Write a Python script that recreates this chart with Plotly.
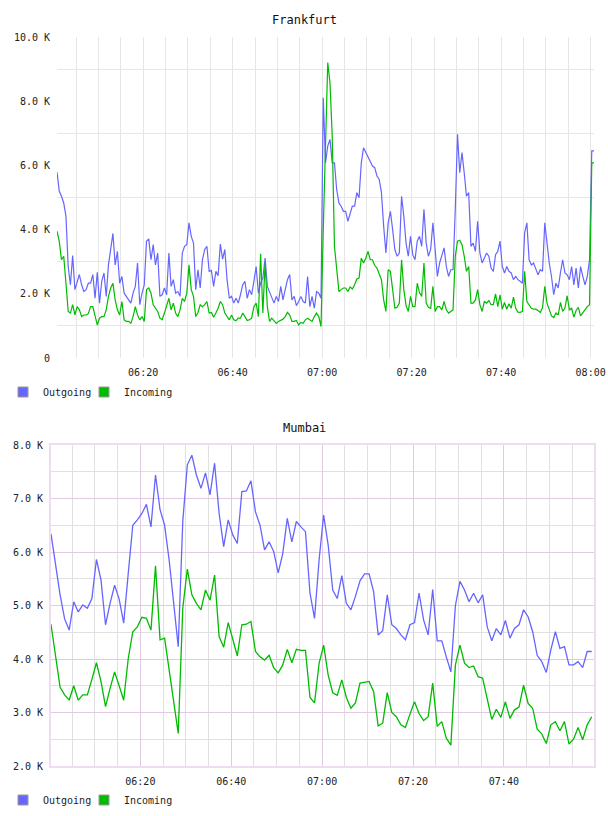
import pandas as pd
import plotly.graph_objects as go

# ---------------- data (values in thousands) ----------------
FRA_START = "2024-01-01 06:00:45"
FRA_STEP = "30s"
fra_outgoing = [
    5.79, 5.2, 5.04, 4.83, 4.42, 2.85, 2.28, 3.19, 2.13, 2.33, 2.6, 2.28, 2.07, 2.13, 2.33, 2.33, 2.6, 1.86, 2.67, 1.71,
    2.39, 2.65, 1.92, 2.9, 3.43, 3.88, 2.9, 3.32, 2.33, 2.54, 2.02, 1.92, 1.81, 1.71, 2.02, 2.23, 2.96, 1.66, 2.02, 2.28,
    3.64, 3.71, 3.06, 3.53, 2.9, 3.27, 1.92, 1.97, 2.18, 1.97, 3.27, 2.23, 2.44, 2.02, 2.07, 1.92, 3.27, 3.48, 3.53,
    4.21, 3.79, 3.58, 2.13, 2.75, 2.18, 3.06, 3.38, 3.48, 2.7, 2.73, 2.23, 2.7, 2.56, 3.55, 3.08, 3.38, 2.44, 1.86, 1.92,
    1.71, 1.86, 1.71, 1.97, 2.28, 2.39, 1.86, 2.13, 1.97, 2.39, 2.85, 2.02, 2.33, 2.49, 3.11, 2.23, 2.07, 1.86, 1.71, 1.92,
    1.76, 2.23, 1.81, 2.13, 2.44, 2.6, 1.81, 1.92, 1.63, 1.76, 1.92, 1.76, 1.71, 2.54, 1.6, 1.92, 1.55, 2.07, 2.02, 1.86,
    8.11, 6.08, 6.6, 6.81, 6.08, 6.08, 5.25, 4.83, 4.73, 4.57, 4.57, 4.26, 4.52, 4.73, 4.73, 5.15, 4.99, 6.08, 6.55, 6.4,
    6.24, 6.08, 5.98, 5.93, 5.67, 5.56, 5.15, 4.1, 3.27, 4.2, 4.57, 4.0, 3.38, 3.17, 3.27, 5.04, 4.42, 3.58, 3.17, 3.79,
    3.22, 3.06, 3.64, 3.79, 3.48, 4.63, 3.58, 3.17, 3.38, 4.21, 3.27, 2.54, 2.96, 3.17, 3.43, 2.85, 2.54, 2.75, 2.75, 4.63,
    6.97,
    5.77, 6.4, 5.77, 5.04, 5.15, 3.48, 3.58, 3.32, 4.26, 3.27, 2.96, 3.11, 3.27, 3.17, 2.8, 2.7, 3.22, 3.32, 3.64, 2.85,
    2.65, 2.85, 2.7, 2.65, 2.44, 2.54, 2.44, 2.39, 2.33, 3.9, 4.21, 3.06, 2.9, 2.96, 2.8, 2.59, 2.75, 2.7, 4.21, 3.48,
    2.96, 2.54, 1.97, 2.33, 2.18, 2.65, 3.06, 2.65, 2.59, 2.44, 2.85, 2.28, 2.8, 2.18, 2.85, 2.54, 2.28, 2.54, 3.06, 6.45,
    6.45,
]
fra_incoming = [
    3.95, 3.64, 3.06, 3.17, 2.33, 1.45, 1.4, 1.66, 1.34, 1.6, 1.5, 1.29, 1.34, 1.34, 1.38, 1.6, 1.6, 1.34, 1.03, 1.24,
    1.29, 1.29, 1.5, 1.92, 2.18, 2.33, 1.81, 1.5, 1.34, 1.76, 1.19, 1.14, 1.14, 1.08, 1.29, 1.6, 1.34, 1.19, 1.29, 1.14,
    2.13, 2.18, 2.02, 1.66, 1.55, 1.45, 1.24, 1.19, 1.4, 1.6, 1.86, 1.5, 1.71, 1.4, 1.29, 1.5, 1.86, 1.76, 2.02,
    2.9, 2.13, 1.92, 1.29, 1.42, 1.66, 1.6, 1.66, 1.76, 1.4, 1.42, 1.27, 1.4, 1.55, 1.76, 1.66, 1.4, 1.29, 1.19, 1.34,
    1.19, 1.16, 1.24, 1.24, 1.4, 1.29, 1.17, 1.19, 1.24, 1.6, 1.71, 1.29, 3.25, 1.4, 2.96, 1.6, 1.14, 1.24, 1.14, 1.08,
    1.14, 1.17, 1.21, 1.29, 1.42, 1.34, 1.14, 1.14, 1.17, 1.03, 1.11, 1.08, 1.19, 1.24, 1.19, 1.14, 1.29, 1.4, 1.29, 0.98,
    4.0, 6.6, 9.2, 8.58, 6.92, 3.48, 2.85, 2.07, 2.13, 2.18, 2.18, 2.07, 2.21, 2.15, 2.28, 2.46, 2.49, 3.11, 2.96, 3.11,
    3.32, 3.06, 3.06, 2.88, 2.8, 2.59, 2.44, 1.81, 1.45, 2.75, 2.7, 2.13, 1.55, 1.58, 1.71, 3.06, 2.13, 1.63, 1.45, 1.92,
    1.6, 1.6, 2.33, 2.04, 1.92, 2.96, 1.71, 1.58, 1.55, 2.23, 1.45, 1.6, 1.6, 1.5, 1.76, 1.5, 1.4, 1.45, 1.5, 3.17,
    3.64,
    3.67, 3.53, 3.17, 2.7, 2.85, 1.71, 1.71, 1.81, 2.13, 1.66, 1.45, 1.76, 1.71, 1.79, 1.66, 1.66, 2.0, 1.6, 1.97, 1.52,
    1.73, 1.52, 1.69, 1.55, 1.9, 1.55, 1.43, 1.42, 1.45, 2.7, 1.76, 1.66, 1.55, 1.52, 1.52, 1.48, 1.42, 1.57, 2.23, 1.71,
    1.52, 1.31, 1.26, 1.4, 1.34, 1.73, 1.45, 1.55, 1.94, 1.5, 1.55, 1.27, 1.48, 1.58, 1.31, 1.4, 1.52, 1.6, 1.66, 6.08,
    6.08,
]

BOM_START = "2024-01-01 06:00:20"
BOM_STEP = "60s"
bom_outgoing = [
    6.34, 5.75, 5.2, 4.75, 4.54, 5.07, 4.88, 5.01, 4.95, 5.13, 5.86, 5.48, 4.64, 5.04, 5.38, 5.12, 4.67, 5.6, 6.5, 6.6,
    6.72, 6.89, 6.47, 7.44, 6.79, 6.5, 5.85, 5.04, 4.23, 6.57, 7.63, 7.81, 7.44, 7.19, 7.48, 7.07, 7.66, 6.72, 6.1, 6.6,
    6.32, 6.16, 7.13, 7.14, 7.33, 6.75, 6.5, 6.04, 6.19, 6.01, 5.61, 5.97, 6.63, 6.19, 6.57, 6.47, 6.38, 5.23, 4.76, 5.85,
    6.69, 6.13, 5.29, 5.13, 5.56, 5.04, 4.92, 5.17, 5.46, 5.59, 5.59, 5.26, 4.45, 4.53, 5.2, 4.64, 4.57, 4.45, 4.36, 4.64,
    4.68, 5.23, 4.73, 4.45, 5.3, 4.34, 4.34, 4.04, 3.76, 5.0, 5.45, 5.29, 5.07, 5.23, 5.05, 5.2, 4.6, 4.34, 4.57, 4.45,
    4.72, 4.39, 4.57, 4.64, 4.92, 4.79, 4.51, 4.07, 3.95, 3.75, 4.17, 4.51, 4.2, 4.23, 3.89, 3.89, 3.95, 3.84, 4.14, 4.14,
]
bom_incoming = [
    4.65, 4.01, 3.47, 3.33, 3.23, 3.5, 3.23, 3.33, 3.33, 3.62, 3.93, 3.58, 3.11, 3.45, 3.76, 3.5, 3.23, 4.01, 4.51, 4.6,
    4.78, 4.76, 4.54, 5.74, 4.36, 4.39, 3.8, 3.2, 2.61, 4.95, 5.68, 5.2, 5.04, 4.92, 5.29, 5.1, 5.57, 4.42, 4.22, 4.68,
    4.39, 4.06, 4.64, 4.65, 4.7, 4.14, 4.04, 3.98, 4.07, 3.84, 3.74, 3.89, 4.18, 3.93, 4.18, 4.16, 4.16, 3.28, 3.18, 3.92,
    4.26, 3.7, 3.37, 3.32, 3.61, 3.28, 3.08, 3.18, 3.55, 3.56, 3.58, 3.39, 2.75, 2.8, 3.37, 3.0, 2.92, 2.77, 2.72, 2.97,
    3.2, 2.98, 2.85, 2.92, 3.55, 2.74, 2.83, 2.52, 2.39, 3.89, 4.26, 3.92, 3.84, 3.87, 3.67, 3.64, 3.26, 2.87, 3.06, 2.91,
    3.2, 2.89, 3.05, 3.1, 3.51, 3.17, 3.08, 2.69, 2.6, 2.42, 2.77, 2.83, 2.66, 2.83, 2.41, 2.5, 2.72, 2.49, 2.77, 2.92,
]

series_names = ["Outgoing", "Incoming"]
titles = ["Frankfurt", "Mumbai"]
fra_ytickvals = [0, 2, 4, 6, 8, 10]
fra_yticktext = ["0", "2.0 K", "4.0 K", "6.0 K", "8.0 K", "10.0 K"]
bom_ytickvals = [2, 3, 4, 5, 6, 7, 8]
bom_yticktext = ["2.0 K", "3.0 K", "4.0 K", "5.0 K", "6.0 K", "7.0 K", "8.0 K"]

# ---------------- styling ----------------
BLUE = "#6666ff"
GREEN = "#00bb00"
FONT = "DejaVu Sans Mono"
GRID_GRAY = "#e6e6e6"
BOM_MAJOR = "#e2c8e2"
BOM_MINOR = "#e0e0e0"
BOM_BORDER = "#eedcf0"

fra_x = pd.date_range(FRA_START, periods=len(fra_outgoing), freq=FRA_STEP)
bom_x = pd.date_range(BOM_START, periods=len(bom_outgoing), freq=BOM_STEP)

fig = go.Figure()
for name, ys, col in zip(series_names, [fra_outgoing, fra_incoming], [BLUE, GREEN]):
    fig.add_trace(go.Scatter(x=fra_x, y=ys, mode="lines", name=name, showlegend=False,
                             line=dict(color=col, width=1.2), xaxis="x", yaxis="y"))
for name, ys, col in zip(series_names, [bom_outgoing, bom_incoming], [BLUE, GREEN]):
    fig.add_trace(go.Scatter(x=bom_x, y=ys, mode="lines", name=name, showlegend=False,
                             line=dict(color=col, width=1.3), xaxis="x2", yaxis="y2"))

# legend entries (square swatches), one legend box per entry for exact placement
legend_ids = [["legend", "legend2"], ["legend3", "legend4"]]
for (xa, ya), legs in zip([("x", "y"), ("x2", "y2")], legend_ids):
    for name, col, leg in zip(series_names, [BLUE, GREEN], legs):
        fig.add_trace(go.Scatter(x=[None], y=[None], mode="markers", name=name, legend=leg,
                                 marker=dict(symbol="square", size=10, color=col,
                                             line=dict(color="#999999", width=1)),
                                 xaxis=xa, yaxis=ya))

W, H = 608, 816
L, R, T, B = 51, 14, 37, 50
pw, ph = W - L - R, H - T - B

def px_x(px):
    return (px - L) / pw

def px_y(py):
    return (H - B - py) / ph

tick_font = dict(family=FONT, size=10, color="#222222")
fmin = 60 * 1000

def legend_box(xpx, ypx):
    return dict(orientation="h", x=px_x(xpx), xanchor="left", y=px_y(ypx), yanchor="middle",
                bgcolor="rgba(0,0,0,0)", font=dict(family=FONT, size=10, color="#222222"),
                itemclick=False, itemdoubleclick=False)

fig.update_layout(
    width=W, height=H,
    margin=dict(l=L, r=R, t=T, b=B, autoexpand=False),
    paper_bgcolor="white", plot_bgcolor="white",
    font=dict(family=FONT, size=10, color="#222222"),
    hovermode=False,
    xaxis=dict(
        domain=[px_x(57), 1], anchor="y", type="date",
        range=[fra_x[0], fra_x[-1]],
        tick0="2024-01-01 06:00:00", dtick=20 * fmin, tickformat="%H:%M",
        showgrid=True, gridcolor=GRID_GRAY, gridwidth=1,
        minor=dict(tick0="2024-01-01 06:00:00", dtick=5 * fmin, showgrid=True, gridcolor=GRID_GRAY, gridwidth=1),
        showline=False, zeroline=False, ticks="outside", ticklen=5, tickcolor="rgba(0,0,0,0)",
        tickfont=tick_font,
    ),
    yaxis=dict(
        domain=[px_y(358), 1], anchor="x", range=[0, 10],
        tickmode="array", tickvals=fra_ytickvals, ticktext=fra_yticktext,
        showgrid=False, zeroline=False, showline=False,
        minor=dict(tickmode="array", tickvals=[1, 3, 5, 7, 9], showgrid=True, gridcolor=GRID_GRAY, gridwidth=1),
        ticks="outside", ticklen=4, tickcolor="rgba(0,0,0,0)", tickfont=tick_font,
    ),
    xaxis2=dict(
        domain=[0, 1], anchor="y2", type="date",
        range=[bom_x[0], pd.Timestamp("2024-01-01 07:59:50")],
        tick0="2024-01-01 06:00:00", dtick=20 * fmin, tickformat="%H:%M",
        showgrid=True, gridcolor=BOM_MAJOR, gridwidth=1,
        minor=dict(tick0="2024-01-01 06:00:00", dtick=5 * fmin, showgrid=True, gridcolor=BOM_MINOR, gridwidth=1),
        showline=True, mirror=True, linecolor=BOM_BORDER, linewidth=2, zeroline=False,
        ticks="outside", ticklen=5, tickcolor="rgba(0,0,0,0)", tickfont=tick_font,
    ),
    yaxis2=dict(
        domain=[0, px_y(445)], anchor="x2", range=[2, 8],
        tickmode="array", tickvals=bom_ytickvals, ticktext=bom_yticktext,
        showgrid=True, gridcolor=BOM_MAJOR, gridwidth=1,
        minor=dict(dtick=0.5, tick0=2, showgrid=True, gridcolor=BOM_MINOR, gridwidth=1),
        showline=True, mirror=True, linecolor=BOM_BORDER, linewidth=2, zeroline=False,
        ticks="outside", ticklen=4, tickcolor="rgba(0,0,0,0)", tickfont=tick_font,
    ),
    legend=legend_box(3, 392),
    legend2=legend_box(84, 392),
    legend3=legend_box(3, 800),
    legend4=legend_box(84, 800),
    annotations=[
        dict(text=titles[0], xref="paper", yref="paper", x=px_x(304), y=px_y(20),
             xanchor="center", yanchor="middle", showarrow=False,
             font=dict(family=FONT, size=12, color="#111111")),
        dict(text=titles[1], xref="paper", yref="paper", x=px_x(304), y=px_y(428),
             xanchor="center", yanchor="middle", showarrow=False,
             font=dict(family=FONT, size=12, color="#111111")),
    ],
)

fig.write_html("out.html")
